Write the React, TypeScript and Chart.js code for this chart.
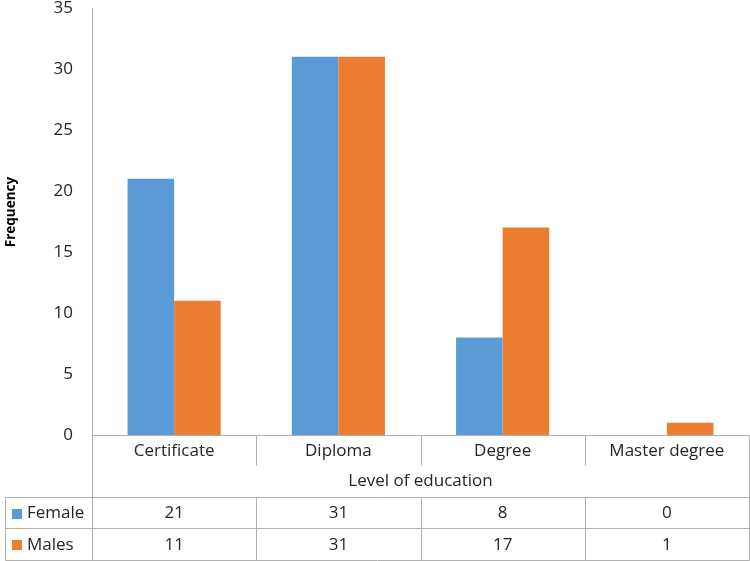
import React, { useEffect, useRef } from "react";
import { Chart, registerables } from "chart.js";

Chart.register(...registerables);

const categories = ["Certificate", "Diploma", "Degree", "Master degree"];
const femaleValues = [21, 31, 8, 0];
const malesValues = [11, 31, 17, 1];
const seriesNames = ["Female", "Males"];
const seriesColors = ["#5B9BD5", "#ED7D31"];
const yTicks = [0, 5, 10, 15, 20, 25, 30, 35];
const xTitle = "Level of education";
const yTitle = "Frequency";

const FONT = "'Open Sans', 'Noto Sans', sans-serif";
const TEXT = "#262626";
const LINE = "#b0b0b0";
const FS = 17;

const tablePlugin = {
  id: "dataTable",
  afterDraw(chart: any) {
    const ctx: CanvasRenderingContext2D = chart.ctx;
    const { left, right, top, bottom } = chart.chartArea;
    const xs = chart.scales.x;
    const n = categories.length;
    const w = (right - left) / n;
    const labelRowBottom = bottom + 30;
    const titleRowBottom = bottom + 62;
    const row1Bottom = titleRowBottom + 31;
    const row2Bottom = row1Bottom + 32;
    const tableLeft = 5;
    const px = (v: number) => Math.round(v) + 0.5;
    const line = (x1: number, y1: number, x2: number, y2: number) => {
      ctx.beginPath();
      ctx.moveTo(px(x1), px(y1));
      ctx.lineTo(px(x2), px(y2));
      ctx.stroke();
    };
    ctx.save();
    ctx.strokeStyle = LINE;
    ctx.lineWidth = 1;
    line(left, bottom, right, bottom);
    line(left, top, left, row2Bottom);
    line(right, bottom, right, row2Bottom);
    for (let i = 1; i < n; i++) {
      const x = left + i * w;
      line(x, bottom, x, labelRowBottom);
      line(x, titleRowBottom, x, row2Bottom);
    }
    line(tableLeft, titleRowBottom, right, titleRowBottom);
    line(tableLeft, row1Bottom, right, row1Bottom);
    line(tableLeft, row2Bottom, right, row2Bottom);
    line(tableLeft, titleRowBottom, tableLeft, row2Bottom);

    ctx.fillStyle = TEXT;
    ctx.textAlign = "center";
    ctx.textBaseline = "middle";
    ctx.font = `${FS}px ${FONT}`;
    categories.forEach((c, i) => {
      const cx = xs.getPixelForValue(i);
      ctx.fillText(c, cx, (bottom + labelRowBottom) / 2 + 1);
    });
    ctx.fillText(xTitle, (left + right) / 2, (labelRowBottom + titleRowBottom) / 2);

    const rows = [femaleValues, malesValues];
    const rowTops = [titleRowBottom, row1Bottom];
    const rowBottoms = [row1Bottom, row2Bottom];
    rows.forEach((vals, r) => {
      const cy = (rowTops[r] + rowBottoms[r]) / 2 + 1;
      vals.forEach((v, i) => {
        ctx.textAlign = "center";
        ctx.fillText(String(v), xs.getPixelForValue(i), cy);
      });
      ctx.fillStyle = seriesColors[r];
      ctx.fillRect(12, Math.round(cy - 5), 10, 10);
      ctx.fillStyle = TEXT;
      ctx.textAlign = "left";
      ctx.fillText(seriesNames[r], 27, cy);
    });

    ctx.save();
    ctx.translate(11, 212);
    ctx.rotate(-Math.PI / 2);
    ctx.textAlign = "center";
    ctx.fillStyle = "#000";
    ctx.font = `bold 13.5px ${FONT}`;
    ctx.fillText(yTitle, 0, 0);
    ctx.restore();
    ctx.restore();
  },
};

export default function App() {
  const ref = useRef<HTMLCanvasElement | null>(null);
  useEffect(() => {
    document.body.style.margin = "0";
    if (!ref.current) return;
    const chart = new Chart(ref.current, {
      type: "bar",
      data: {
        labels: categories,
        datasets: [
          { label: seriesNames[0], data: femaleValues, backgroundColor: seriesColors[0] },
          { label: seriesNames[1], data: malesValues, backgroundColor: seriesColors[1] },
        ],
      },
      options: {
        animation: false,
        responsive: false,
        maintainAspectRatio: false,
        layout: { padding: { left: 0, right: 1, top: 8, bottom: 126 } },
        datasets: { bar: { categoryPercentage: 0.567, barPercentage: 1.0 } },
        plugins: { legend: { display: false }, tooltip: { enabled: false } },
        scales: {
          x: { display: false, offset: true },
          y: {
            min: 0,
            max: 35,
            afterBuildTicks: (s: any) => {
              s.ticks = yTicks.map((v) => ({ value: v }));
            },
            afterFit: (s: any) => {
              s.width = 92;
              s.paddingTop = 0;
              s.paddingBottom = 0;
            },
            grid: { display: false, drawTicks: false },
            border: { display: true, color: LINE },
            ticks: {
              color: TEXT,
              padding: 19,
              font: { family: FONT, size: FS },
            },
          },
        },
      },
      plugins: [tablePlugin],
    });
    return () => chart.destroy();
  }, []);
  return (
    <div style={{ width: 750, height: 561 }}>
      <canvas ref={ref} width={750} height={561} style={{ display: "block" }} />
    </div>
  );
}
